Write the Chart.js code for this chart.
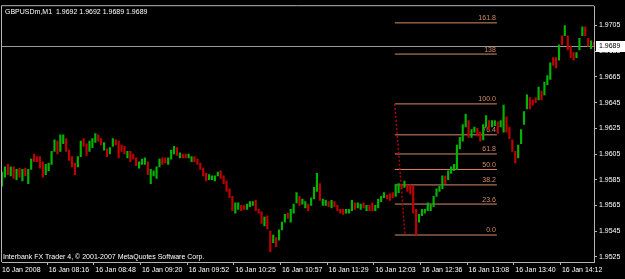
<!DOCTYPE html>
<html><head><meta charset="utf-8">
<script src="https://cdn.jsdelivr.net/npm/chart.js@4.4.0/dist/chart.umd.min.js"></script>
<style>html,body{margin:0;padding:0;background:#000;overflow:hidden}canvas{display:block}</style>
</head><body>
<canvas id="c" width="625" height="279"></canvas>
<script>
// ---- data ----
const timeLabels = ['16 Jan 2008','16 Jan 08:16','16 Jan 08:48','16 Jan 09:20','16 Jan 09:52','16 Jan 10:25','16 Jan 10:57','16 Jan 11:29','16 Jan 12:03','16 Jan 12:36','16 Jan 13:08','16 Jan 13:40','16 Jan 14:12'];
const barsPerLabel = 16;
const highs = [
1.9591,1.9595,1.9597,1.9595,1.9595,1.9593,1.9594,1.9593,1.9594,1.9593,
1.9601,1.9605,1.9603,1.9603,1.9599,1.9597,1.9598,1.9607,1.9616,1.9615,
1.9620,1.9620,1.9617,1.9608,1.9603,1.9598,1.9603,1.9615,1.9617,1.9613,
1.9615,1.9617,1.9621,1.9620,1.9617,1.9614,1.9609,1.9610,1.9617,1.9616,
1.9615,1.9612,1.9611,1.9607,1.9607,1.9605,1.9602,1.9599,1.9601,1.9602,
1.9599,1.9593,1.9592,1.9595,1.9601,1.9602,1.9602,1.9602,1.9608,1.9611,
1.9610,1.9606,1.9605,1.9605,1.9605,1.9603,1.9603,1.9601,1.9598,1.9594,
1.9590,1.9589,1.9588,1.9588,1.9591,1.9592,1.9588,1.9584,1.9578,1.9572,
1.9567,1.9567,1.9565,1.9565,1.9566,1.9568,1.9568,1.9569,1.9562,1.9560,
1.9556,1.9557,1.9545,1.9542,1.9540,1.9546,1.9552,1.9558,1.9559,1.9562,
1.9566,1.9575,1.9572,1.9570,1.9568,1.9566,1.9571,1.9579,1.9590,1.9582,
1.9570,1.9569,1.9568,1.9569,1.9568,1.9565,1.9562,1.9562,1.9562,1.9562,
1.9569,1.9567,1.9567,1.9566,1.9567,1.9565,1.9565,1.9567,1.9565,1.9570,
1.9572,1.9575,1.9573,1.9574,1.9575,1.9581,1.9582,1.9581,1.9584,1.9581,
1.9581,1.9580,1.9562,1.9558,1.9562,1.9562,1.9567,1.9565,1.9572,1.9578,
1.9580,1.9588,1.9588,1.9592,1.9595,1.9597,1.9612,1.9618,1.9628,1.9636,
1.9631,1.9624,1.9626,1.9625,1.9622,1.9628,1.9635,1.9631,1.9631,1.9631,
1.9630,1.9631,1.9643,1.9634,1.9626,1.9616,1.9607,1.9612,1.9624,1.9638,
1.9651,1.9649,1.9647,1.9649,1.9657,1.9654,1.9661,1.9666,1.9676,1.9680,
1.9680,1.9690,1.9697,1.9705,1.9697,1.9689,1.9684,1.9684,1.9695,1.9704,
1.9704,1.9695,1.9693,1.9692];
const lows = [
1.9580,1.9587,1.9589,1.9588,1.9586,1.9585,1.9587,1.9584,1.9588,1.9582,
1.9593,1.9599,1.9599,1.9594,1.9587,1.9589,1.9592,1.9597,1.9607,1.9605,
1.9607,1.9613,1.9607,1.9600,1.9595,1.9589,1.9595,1.9603,1.9611,1.9604,
1.9607,1.9610,1.9614,1.9615,1.9612,1.9608,1.9603,1.9605,1.9611,1.9612,
1.9602,1.9607,1.9605,1.9602,1.9599,1.9601,1.9596,1.9594,1.9597,1.9597,
1.9589,1.9582,1.9588,1.9586,1.9595,1.9597,1.9598,1.9597,1.9601,1.9605,
1.9604,1.9602,1.9602,1.9602,1.9602,1.9599,1.9599,1.9597,1.9593,1.9588,
1.9584,1.9585,1.9585,1.9584,1.9588,1.9586,1.9582,1.9576,1.9571,1.9561,
1.9559,1.9562,1.9561,1.9562,1.9562,1.9564,1.9565,1.9561,1.9559,1.9551,
1.9549,1.9547,1.9529,1.9536,1.9533,1.9538,1.9546,1.9552,1.9555,1.9552,
1.9559,1.9567,1.9565,1.9566,1.9563,1.9561,1.9565,1.9570,1.9576,1.9569,
1.9565,1.9565,1.9564,1.9563,1.9564,1.9561,1.9559,1.9558,1.9559,1.9559,
1.9561,1.9562,1.9563,1.9562,1.9563,1.9561,1.9561,1.9561,1.9561,1.9563,
1.9568,1.9571,1.9570,1.9569,1.9571,1.9572,1.9575,1.9578,1.9579,1.9576,
1.9574,1.9559,1.9542,1.9552,1.9557,1.9559,1.9561,1.9561,1.9564,1.9572,
1.9576,1.9578,1.9582,1.9585,1.9590,1.9592,1.9593,1.9609,1.9615,1.9626,
1.9618,1.9618,1.9622,1.9619,1.9615,1.9616,1.9626,1.9624,1.9626,1.9627,
1.9621,1.9626,1.9622,1.9622,1.9617,1.9607,1.9598,1.9602,1.9613,1.9628,
1.9640,1.9640,1.9643,1.9645,1.9647,1.9647,1.9651,1.9659,1.9663,1.9674,
1.9672,1.9678,1.9690,1.9697,1.9686,1.9680,1.9678,1.9680,1.9686,1.9697,
1.9697,1.9689,1.9687,1.9689];
const ups = [
1,1,0,1,0,1,0,1,0,1, 1,0,0,0,0,1,1,1,1,0, 1,1,0,0,0,0,1,1,0,0, 1,1,1,0,0,1,0,1,1,0,
0,0,0,1,0,0,0,1,1,1, 0,1,1,1,1,0,0,1,1,1, 0,1,0,0,1,1,0,0,0,0, 0,1,1,1,1,0,0,0,0,0,
1,1,0,0,1,1,1,0,0,0, 1,0,0,1,0,1,1,1,0,1, 1,1,0,1,1,0,1,1,1,0, 1,1,0,1,0,0,0,0,1,1,
1,0,1,1,0,1,0,0,1,1, 1,1,0,0,0,1,1,0,1,0, 0,0,0,1,1,1,1,1,1,1, 1,1,0,1,1,1,1,1,1,1,
0,1,1,0,0,1,1,0,1,1, 0,1,1,0,0,0,0,1,1,1, 1,0,0,0,1,0,1,1,1,0, 0,1,0,1,0,0,0,1,1,1,
0,0,1,0];
const priceTicks = [1.9525,1.9545,1.9565,1.9585,1.9605,1.9625,1.9645,1.9665,1.9685,1.9705];
const priceMin = 1.9521, priceMax = 1.9720;
const symbol = 'GBPUSDm,M1';
const lastQuote = [1.9692, 1.9692, 1.9689, 1.9689]; // open high low close
const fibHigh = 1.9644, fibLow = 1.9542;
const fibLevels = [0, 23.6, 38.2, 50, 61.8, 76.4, 100, 138, 161.8];
const fibTexts = ['0.0','23.6','38.2','50.0','61.8','76.4','100.0','138','161.8'];
const fibStartBar = 134.7, fibEndPointBar = 138.2, fibRightBar = 169.7;
const copyright = 'Interbank FX Trader 4, \u00a9 2001-2007 MetaQuotes Software Corp.';

// ---- styles ----
const FAMILY = '"Liberation Sans", Arial, sans-serif';
const FONT = '7px ' + FAMILY;
const UP = '#00b400', DOWN = '#c00000', AXIS = '#b4b4b4', FIB = '#d48c6a';

const labels = highs.map((_, i) => i % barsPerLabel === 0 ? (timeLabels[i / barsPerLabel] || '') : '');

const deco = {
  id: 'deco',
  beforeDraw(chart) {
    const c = chart.ctx; c.save(); c.fillStyle = '#000'; c.fillRect(0, 0, chart.width, chart.height); c.restore();
  },
  beforeDatasetsDraw(chart) {
    const c = chart.ctx, a = chart.chartArea, x = chart.scales.x, y = chart.scales.y;
    c.save();
    const py = Math.round(y.getPixelForValue(lastQuote[3])) + 0.5;
    c.strokeStyle = '#9a9a9a'; c.lineWidth = 1;
    c.beginPath(); c.moveTo(a.left, py); c.lineTo(a.right, py); c.stroke();
    const x1 = x.getPixelForValue(fibStartBar), x2 = x.getPixelForValue(fibRightBar);
    c.font = FONT; c.textAlign = 'right'; c.textBaseline = 'bottom';
    fibLevels.forEach((lv, k) => {
      const yy = y.getPixelForValue(fibLow + (fibHigh - fibLow) * lv / 100);
      c.strokeStyle = FIB; c.lineWidth = 1;
      c.beginPath(); c.moveTo(x1, yy); c.lineTo(x2, yy); c.stroke();
      c.fillStyle = FIB; c.fillText(fibTexts[k], x2 - 1, yy - 1);
    });
    c.setLineDash([2, 2]); c.strokeStyle = '#b00000'; c.lineWidth = 1.5;
    c.beginPath();
    c.moveTo(x1, y.getPixelForValue(fibHigh));
    c.lineTo(x.getPixelForValue(fibEndPointBar), y.getPixelForValue(fibLow));
    c.stroke();
    c.restore();
  },
  afterDraw(chart) {
    const c = chart.ctx, a = chart.chartArea, y = chart.scales.y;
    c.save();
    c.strokeStyle = AXIS; c.lineWidth = 1;
    c.beginPath();
    c.moveTo(a.left - 0.5, a.bottom); c.lineTo(a.left - 0.5, a.top - 0.5); c.lineTo(a.right, a.top - 0.5);
    c.stroke();
    c.font = FONT; c.fillStyle = '#ffffff'; c.textAlign = 'left'; c.textBaseline = 'top';
    c.fillText(symbol + '  ' + lastQuote.map(v => v.toFixed(4)).join(' '), a.left + 3, a.top + 2);
    c.textBaseline = 'bottom';
    c.fillText(copyright, a.left + 1, a.bottom - 1);
    const py = Math.round(y.getPixelForValue(lastQuote[3]));
    c.fillStyle = '#ffffff';
    c.fillRect(a.right + 2, py - 5, chart.width - a.right - 2, 11);
    c.fillStyle = '#000000'; c.textBaseline = 'middle';
    c.fillText(lastQuote[3].toFixed(4), a.right + 5, py + 0.5);
    c.restore();
  }
};

new Chart(document.getElementById('c'), {
  type: 'bar',
  data: {
    labels: labels,
    datasets: [{
      data: lows.map((l, i) => [l, highs[i]]),
      backgroundColor: ups.map(u => u ? UP : DOWN),
      borderWidth: 0,
      barThickness: 1.5,
      minBarLength: 1
    }]
  },
  options: {
    responsive: false,
    animation: false,
    events: [],
    layout: { padding: { left: 2, top: 2, right: 0, bottom: 0 } },
    plugins: { legend: { display: false }, tooltip: { enabled: false }, title: { display: false } },
    scales: {
      x: {
        offset: false,
        grid: { drawOnChartArea: false, drawTicks: true, tickLength: 3,
                color: ctx => (ctx.tick && ctx.tick.label) ? AXIS : 'rgba(0,0,0,0)' },
        border: { display: true, color: AXIS, width: 1 },
        ticks: { autoSkip: false, maxRotation: 0, minRotation: 0, align: 'start', padding: 1,
                 color: '#ffffff', font: { family: FAMILY, size: 7 } },
        afterFit: s => { s.height = 17; }
      },
      y: {
        position: 'right',
        min: priceMin, max: priceMax,
        afterBuildTicks: s => { s.ticks = priceTicks.map(v => ({ value: v })); },
        grid: { drawOnChartArea: false, drawTicks: true, tickLength: 3, color: AXIS },
        border: { display: true, color: AXIS, width: 1 },
        ticks: { padding: 2, color: '#ffffff', font: { family: FAMILY, size: 7 },
                 callback: v => Number(v).toFixed(4) },
        afterFit: s => { s.width = 31; }
      }
    }
  },
  plugins: [deco]
});
</script>
</body></html>
